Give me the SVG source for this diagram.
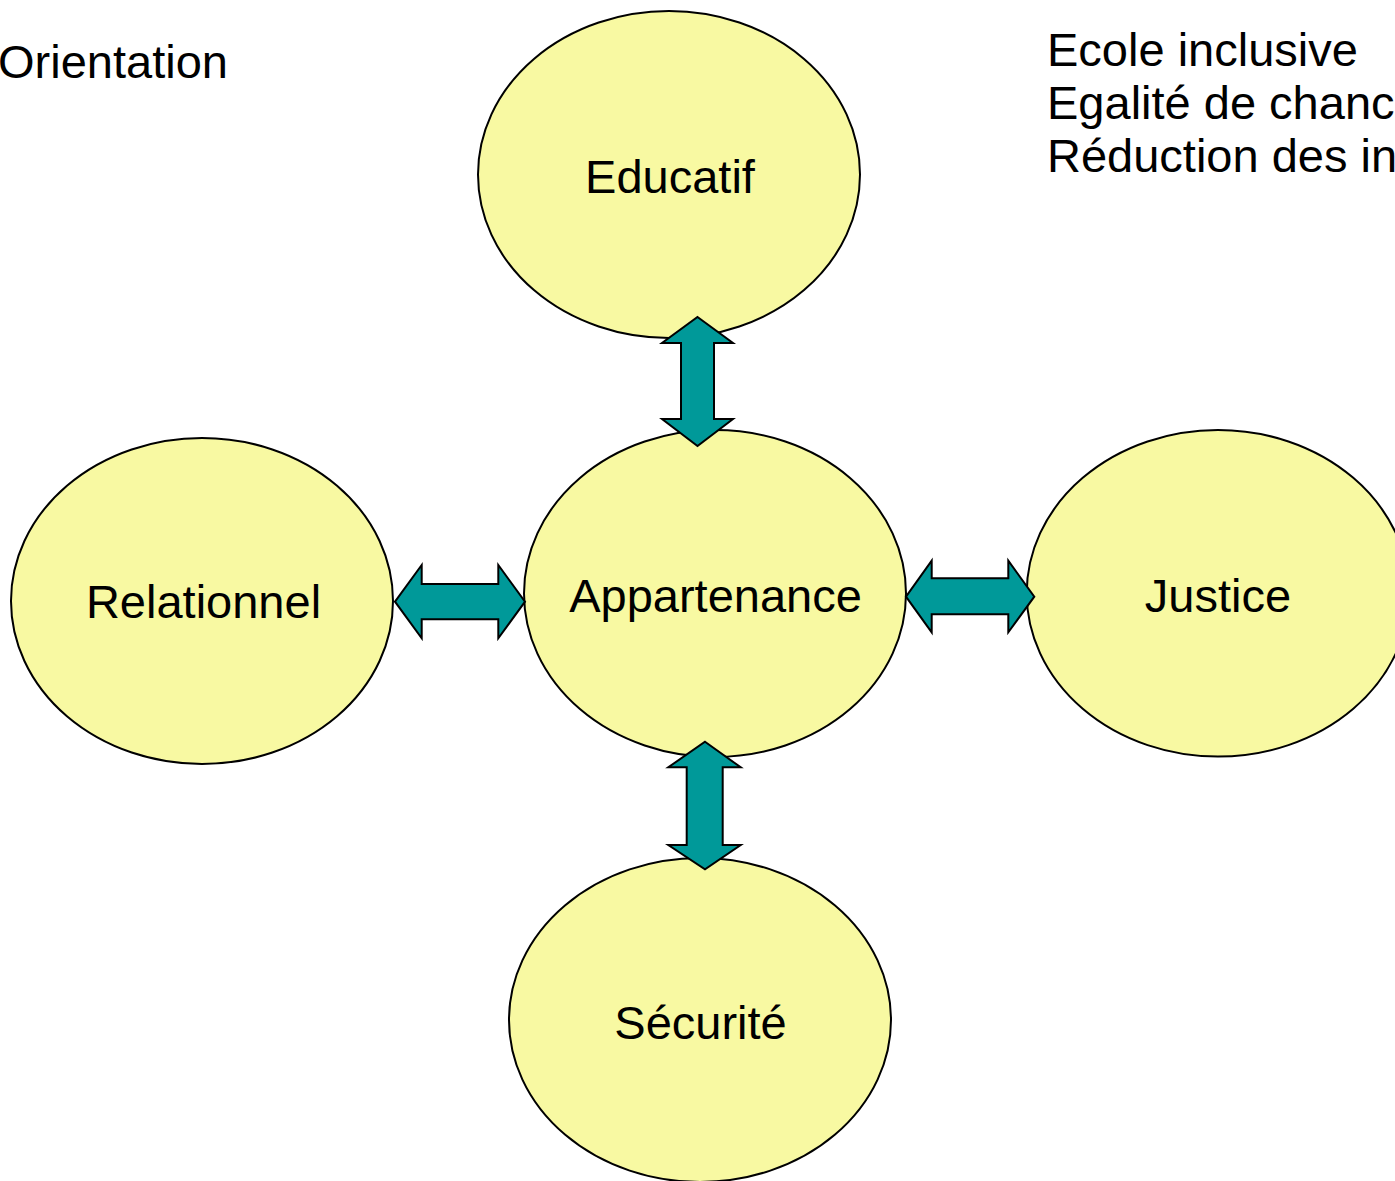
<svg xmlns="http://www.w3.org/2000/svg" width="1395" height="1181" viewBox="0 0 1395 1181">
<style>
.node{fill:#F8F9A2;stroke:#000;stroke-width:2}
.lbl{font-family:"Liberation Sans",Arial,sans-serif;font-size:47px;fill:#000;text-anchor:middle}
.txt{font-family:"Liberation Sans",Arial,sans-serif;font-size:47px;fill:#000}
.arr{fill:#009999;stroke:#000;stroke-width:2;stroke-linejoin:miter}
</style>
<rect width="1395" height="1181" fill="#fff"/>
<text class="txt" x="-2" y="78">Orientation</text>
<g id="notes">
<text class="txt" x="1047" y="66">Ecole inclusive</text>
<text class="txt" x="1047" y="119">Egalité de chances</text>
<text class="txt" x="1047" y="172">Réduction des inégalités</text>
</g>
<g id="educatif"><ellipse class="node" cx="669" cy="174.5" rx="191" ry="163.5"/><text class="lbl" x="670" y="193">Educatif</text></g>
<g id="relationnel"><ellipse class="node" cx="202" cy="601" rx="191" ry="163"/><text class="lbl" x="203.5" y="618">Relationnel</text></g>
<g id="justice"><ellipse class="node" cx="1218" cy="593.3" rx="191.3" ry="163.3"/><text class="lbl" x="1218" y="612">Justice</text></g>
<g id="securite"><ellipse class="node" cx="700" cy="1020" rx="191" ry="162"/><text class="lbl" x="700.5" y="1039">Sécurité</text></g>
<g id="appartenance"><ellipse class="node" cx="715" cy="593.5" rx="191" ry="163.5"/><text class="lbl" x="715.5" y="612">Appartenance</text></g>
<g id="connectors">
<polygon class="arr" points="697.5,317 733,343 714,343 714,419 733,419 697.5,446 662,419 681,419 681,343 662,343"/>
<polygon class="arr" points="395,601.7 421.7,565 421.7,584 498.3,584 498.3,565 525,601.7 498.3,638.3 498.3,619.3 421.7,619.3 421.7,638.3"/>
<polygon class="arr" points="906,596.7 931.7,560.7 931.7,578.3 1008.3,578.3 1008.3,560.7 1034.3,596.7 1008.3,632.3 1008.3,614.3 931.7,614.3 931.7,632.3"/>
<polygon class="arr" points="705,741.7 740.7,767.3 722.7,767.3 722.7,845 740.7,845 705,869.3 668.3,845 686.7,845 686.7,767.3 668.3,767.3"/>
</g>
</svg>
